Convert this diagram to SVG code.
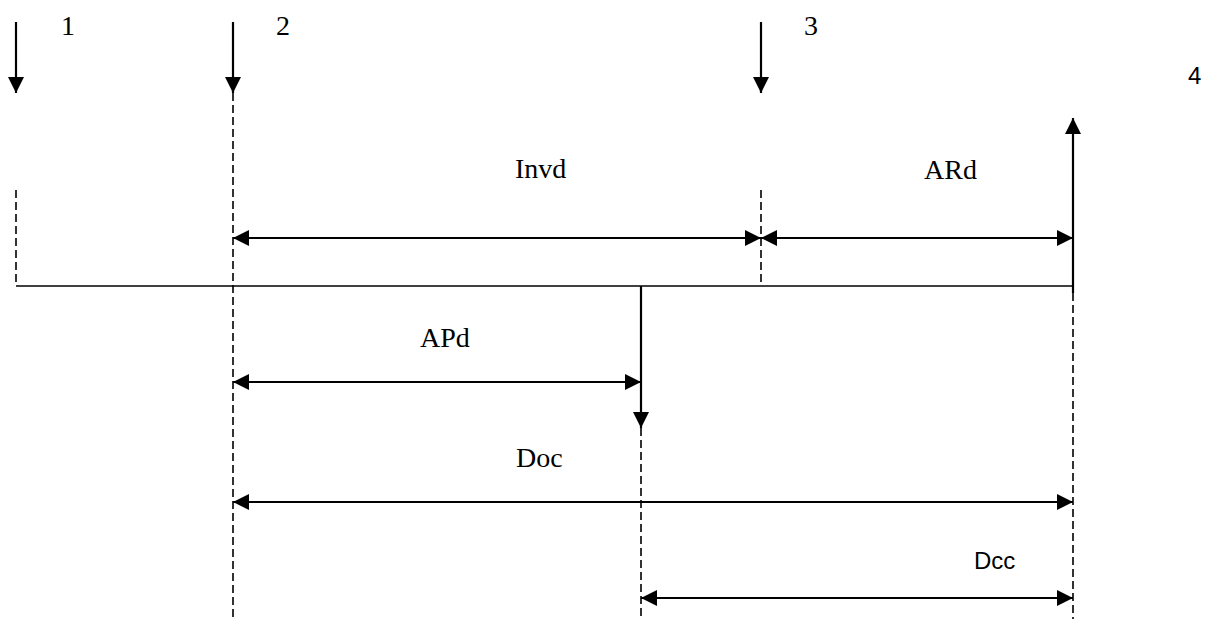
<svg xmlns="http://www.w3.org/2000/svg" width="1206" height="619" viewBox="0 0 1206 619">
<style>
.s{stroke:#000;stroke-width:2.2;fill:none}
.b{stroke:#000;stroke-width:1.6;fill:none}
.d{stroke:#000;stroke-width:1.6;fill:none;stroke-dasharray:8,4}
.t{font-family:"Liberation Serif","Times New Roman",serif;font-size:28px;fill:#000}
.c{font-family:"Liberation Sans",Arial,sans-serif;font-size:24px;fill:#000}
</style>
<defs>
<marker id="ah" viewBox="0 0 16 16" refX="16" refY="8" markerWidth="16" markerHeight="16" markerUnits="userSpaceOnUse" orient="auto-start-reverse">
<path d="M0,0 L16,8 L0,16 Z" fill="#000"/>
</marker>
</defs>
<rect width="1206" height="619" fill="#fff"/>
<g id="guides">
<line class="d" x1="16" y1="190" x2="16" y2="284"/>
<line class="d" x1="233" y1="93" x2="233" y2="619"/>
<line class="d" x1="761" y1="190" x2="761" y2="284"/>
<line class="d" x1="641" y1="428" x2="641" y2="619"/>
<line class="d" x1="1073" y1="293" x2="1073" y2="619"/>
<line class="b" x1="16" y1="286" x2="1073" y2="286"/>
</g>
<g id="connectors">
<line class="s" x1="16" y1="22" x2="16" y2="93" marker-end="url(#ah)"/>
<line class="s" x1="233" y1="22" x2="233" y2="93" marker-end="url(#ah)"/>
<line class="s" x1="761" y1="22" x2="761" y2="93" marker-end="url(#ah)"/>
<line class="s" x1="1073" y1="293" x2="1073" y2="118" marker-end="url(#ah)"/>
<line class="s" x1="641" y1="286" x2="641" y2="428" marker-end="url(#ah)"/>
<line class="s" x1="233" y1="238" x2="761" y2="238" marker-start="url(#ah)" marker-end="url(#ah)"/>
<line class="s" x1="761" y1="238" x2="1073" y2="238" marker-start="url(#ah)" marker-end="url(#ah)"/>
<line class="s" x1="233" y1="382" x2="641" y2="382" marker-start="url(#ah)" marker-end="url(#ah)"/>
<line class="s" x1="233" y1="502" x2="1073" y2="502" marker-start="url(#ah)" marker-end="url(#ah)"/>
<line class="s" x1="641" y1="598" x2="1073" y2="598" marker-start="url(#ah)" marker-end="url(#ah)"/>
</g>
<g id="label-1"><text class="t" x="61" y="35">1</text></g>
<g id="label-2"><text class="t" x="276" y="35">2</text></g>
<g id="label-3"><text class="t" x="804" y="35">3</text></g>
<g id="label-4"><text class="c" x="1188" y="84">4</text></g>
<g id="label-invd"><text class="t" x="515" y="178">Invd</text></g>
<g id="label-ard"><text class="t" x="924" y="179">ARd</text></g>
<g id="label-apd"><text class="t" x="420" y="347">APd</text></g>
<g id="label-doc"><text class="t" x="516" y="467">Doc</text></g>
<g id="label-dcc"><text class="c" x="974" y="569">Dcc</text></g>
</svg>
